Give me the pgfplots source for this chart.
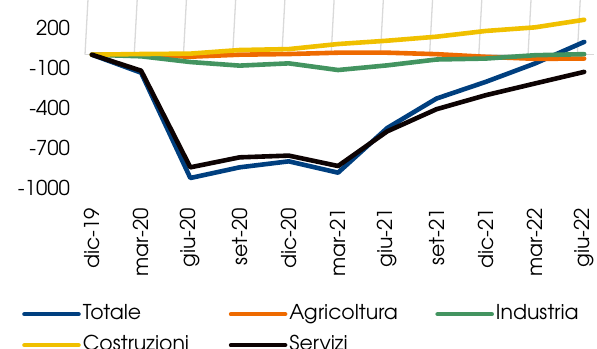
\documentclass[border=0pt]{standalone}
\usepackage{pgfplots}
\pgfplotsset{compat=1.18}
\usepackage{fontspec}
\setmainfont{TeX Gyre Adventor}

\definecolor{cTot}{HTML}{003F7F}
\definecolor{cAgr}{HTML}{EE6A00}
\definecolor{cInd}{HTML}{439460}
\definecolor{cCos}{HTML}{F0C000}
\definecolor{cSer}{HTML}{0D0303}
\definecolor{cAxis}{HTML}{D9D9D9}

% Variazioni cumulate rispetto a dic-19 (migliaia)
\begin{document}
\fontsize{20.5}{24}\selectfont
\begin{tikzpicture}
\begin{axis}[
  scale only axis,
  width=509bp, height=173.3bp,
  xmin=-0.14, xmax=10.2,
  ymin=-1000, ymax=300,
  clip=false,
  axis line style={draw=none},
  major tick length=0pt,
  xtick={0,...,10},
  xticklabels={dic-19,mar-20,giu-20,set-20,dic-20,mar-21,giu-21,set-21,dic-21,mar-22,giu-22},
  xticklabel style={rotate=90, anchor=east},
  xticklabel shift=13bp,
  ytick={-1000,-700,-400,-100,200},
  yticklabel shift=8bp,
  /pgf/number format/assume math mode=true,
  /pgf/number format/1000 sep={},
  every axis plot/.append style={line width=4.6bp, line cap=round, line join=round},
  legend columns=3,
  legend cell align=left,
  legend style={draw=none, fill=none, at={(0,0)}, anchor=north west,
    xshift=-66bp, yshift=-111bp, row sep=5bp,
    nodes={inner sep=2bp, text height=16bp, text depth=6bp},
    /tikz/every even column/.append style={column sep=0pt}},
  legend image code/.code={\draw[#1, line width=4.6bp, line cap=round] (0bp,0bp) -- (54bp,0bp);},
]
% linea dello zero e tacche
\draw[cAxis, line width=1.3bp] (axis cs:-0.14,0) -- (axis cs:10.2,0);
\pgfplotsinvokeforeach{0,...,10}{
  \draw[cAxis, line width=1.3bp] (axis cs:#1-0.14,0) -- ++(0,-6bp);
}

\addplot[cTot] coordinates {(0,0) (1,-135) (2,-925) (3,-845) (4,-800) (5,-885) (6,-550) (7,-329) (8,-204) (9,-66) (10,96)};
\addlegendentry{\makebox[144bp][l]{Totale}}
\addplot[cAgr] coordinates {(0,0) (1,-3) (2,-15) (3,0) (4,5) (5,15) (6,15) (7,4) (8,-16) (9,-31) (10,-29)};
\addlegendentry{\makebox[144bp][l]{Agricoltura}}
\addplot[cInd] coordinates {(0,0) (1,-12) (2,-55) (3,-82) (4,-65) (5,-115) (6,-80) (7,-36) (8,-29) (9,-4) (10,4)};
\addlegendentry{\makebox[144bp][l]{Industria}}
\addplot[cCos] coordinates {(0,0) (1,5) (2,8) (3,35) (4,42) (5,80) (6,105) (7,135) (8,178) (9,205) (10,262)};
\addlegendentry{\makebox[144bp][l]{Costruzioni}}
\addplot[cSer] coordinates {(0,0) (1,-120) (2,-845) (3,-770) (4,-757) (5,-835) (6,-575) (7,-409) (8,-304) (9,-216) (10,-129)};
\addlegendentry{\makebox[144bp][l]{Servizi}}
\end{axis}
\pgfresetboundingbox
\useasboundingbox (-85bp,-161bp) rectangle (512bp,188bp);
\end{tikzpicture}
\end{document}
